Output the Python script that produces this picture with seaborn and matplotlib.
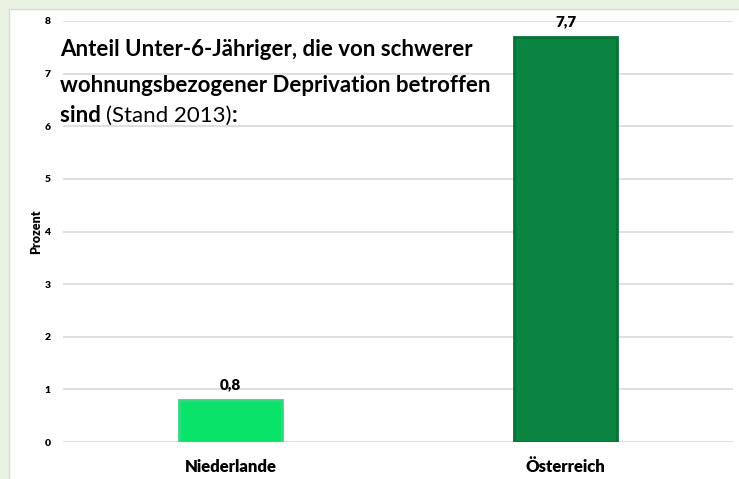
import numpy as np
import pandas as pd
import matplotlib
matplotlib.use("Agg")
import matplotlib.pyplot as plt
import seaborn as sns
from matplotlib.patches import Rectangle

# Data
laender = ["Niederlande", "Österreich"]
anteil = [0.8, 7.7]
wert_labels = ["0,8", "7,7"]
bar_farben = ["#0AE36A", "#0A8440"]
kanten_farben = ["#35D880", "#067236"]
y_ticks = [0, 1, 2, 3, 4, 5, 6, 7, 8]

df = pd.DataFrame({"Land": laender, "Prozent": anteil})

sns.set_theme(style="white")
plt.rcParams["font.family"] = ["Lato", "DejaVu Sans"]
plt.rcParams["text.color"] = "black"
plt.rcParams["xtick.color"] = "black"
plt.rcParams["ytick.color"] = "black"
plt.rcParams["axes.labelcolor"] = "black"

fig = plt.figure(figsize=(7.39, 4.79), dpi=100)
fig.patch.set_facecolor("#EAF2E1")

# white panel with thin border (behind the axes)
fig.patches.append(Rectangle((9 / 739, -0.01), 1.0, 1 - 9 / 479 + 0.01,
                             transform=fig.transFigure, facecolor="white",
                             edgecolor="#D9D9D9", linewidth=1, zorder=-5))

ax = fig.add_axes([63 / 739, 1 - 442 / 479, (733 - 63) / 739, (442 - 21) / 479])
ax.set_facecolor("none")
ax.set_zorder(2)

sns.barplot(data=df, x="Land", y="Prozent", hue="Land", palette=bar_farben,
            saturation=1, width=0.31, legend=False, ax=ax, zorder=3)
for patch, kante in zip(ax.patches, kanten_farben):
    patch.set_edgecolor(kante)
    patch.set_linewidth(2)

ax.set_ylim(0, 8)
ax.set_xlim(-0.5, 1.5)
ax.set_yticks(y_ticks)
ax.yaxis.grid(True, color="#D9D9D9", linewidth=1.2, zorder=0)
ax.set_axisbelow(True)
for s in ax.spines.values():
    s.set_visible(False)

ax.tick_params(axis="y", length=0, pad=9, labelsize=7.5)
ax.tick_params(axis="x", length=0, pad=12, labelsize=12)
for lab in ax.get_yticklabels() + ax.get_xticklabels():
    lab.set_fontweight("heavy")

ax.set_xlabel("")
ax.set_ylabel("Prozent", fontsize=9, fontweight="heavy")
ax.yaxis.set_label_coords(-0.031, 0.5)

for i, (v, t) in enumerate(zip(anteil, wert_labels)):
    ax.annotate(t, (i, v), xytext=(0, 6), textcoords="offset points",
                ha="center", va="bottom", fontsize=11, fontweight="heavy")

# Title block: mixed bold / regular
title_kw = dict(transform=fig.transFigure, fontsize=16, va="baseline", ha="left", zorder=5)
x0 = 60 / 739
fig.text(x0, 1 - 56 / 479, "Anteil Unter-6-Jähriger, die von schwerer",
         fontweight="bold", **title_kw)
fig.text(x0, 1 - 92 / 479, "wohnungsbezogener Deprivation betroffen",
         fontweight="bold", **title_kw)
t1 = fig.text(x0, 1 - 122 / 479, "sind ", fontweight="bold", **title_kw)
fig.canvas.draw()
r = fig.canvas.get_renderer()
bb = t1.get_window_extent(r)
t2 = fig.text(bb.x1 / fig.bbox.width, 1 - 122 / 479, "(Stand 2013)",
              fontweight="normal", **title_kw)
bb2 = t2.get_window_extent(r)
fig.text(bb2.x1 / fig.bbox.width, 1 - 122 / 479, ":", fontweight="bold", **title_kw)

fig.savefig("out.png", dpi=100, facecolor=fig.get_facecolor())
